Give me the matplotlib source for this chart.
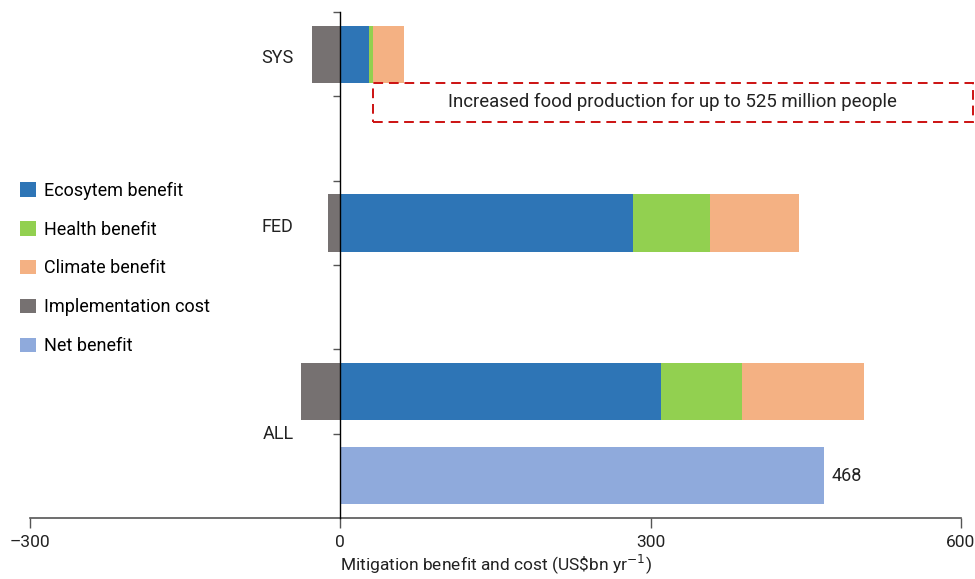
import matplotlib
matplotlib.use("Agg")
import matplotlib.pyplot as plt
from matplotlib.patches import Rectangle, Patch

plt.rcParams['font.family'] = ['Roboto', 'DejaVu Sans']

# Scenario data (US$bn per year)
scenarios = ["SYS", "FED", "ALL"]
ecosystem = [28, 283, 310]
health = [4, 74, 78]
climate = [30, 86, 118]
implementation = [-27, -12, -38]
net_benefit_all = 468

colors = {
    "Ecosytem benefit": "#2E75B6",
    "Health benefit": "#92D050",
    "Climate benefit": "#F4B183",
    "Implementation cost": "#767171",
    "Net benefit": "#8FAADC",
}

# vertical slots for each scenario's stacked bar
bar_pos = {"SYS": 5.5, "FED": 3.5, "ALL": 1.5}
label_pos = {"SYS": 5.46, "FED": 3.45, "ALL": 1.0}
bar_h = 0.68
fs = 13

fig = plt.figure(figsize=(9.75, 5.79), dpi=100)
ax = fig.add_axes([0.0308, 0.1054, 0.9548, 0.8736])

for i, s in enumerate(scenarios):
    y = bar_pos[s]
    ax.barh(y, implementation[i], height=bar_h, color=colors["Implementation cost"], zorder=2)
    left = 0
    for vals, key in ((ecosystem, "Ecosytem benefit"), (health, "Health benefit"),
                      (climate, "Climate benefit")):
        ax.barh(y, vals[i], left=left, height=bar_h, color=colors[key], zorder=2)
        left += vals[i]
    ax.text(-45, label_pos[s], s, ha="right", va="center", fontsize=fs, color="#222222")

# net benefit for ALL
ax.barh(0.5, net_benefit_all, height=bar_h, color=colors["Net benefit"], zorder=2)
ax.text(net_benefit_all + 7, 0.5, f"{net_benefit_all}", ha="left", va="center",
        fontsize=fs, color="#222222")

# annotation box
rect = Rectangle((32, 4.70), 580, 0.46, fill=False, edgecolor="#CC1111",
                 linestyle=(0, (5, 3)), linewidth=1.4, zorder=3, clip_on=False)
ax.add_patch(rect)
ax.text(321, 4.93, "Increased food production for up to 525 million people",
        ha="center", va="center", fontsize=13.4, color="#222222")

ax.set_xlim(-300, 600)
ax.set_ylim(0, 6)
ax.set_xticks([-300, 0, 300, 600])
ax.set_xticklabels(["\u2013300", "0", "300", "600"], fontsize=12.5, color="#222222")
ax.set_yticks([1, 2, 3, 4, 5, 6])
ax.set_yticklabels([])

for sp in ("top", "right"):
    ax.spines[sp].set_visible(False)
ax.spines["left"].set_position(("data", 0))
ax.spines["left"].set_color("black")
ax.spines["left"].set_linewidth(1.0)
ax.spines["left"].set_zorder(4)
ax.spines["bottom"].set_color("#555555")
ax.spines["bottom"].set_linewidth(1.2)
ax.tick_params(axis="x", direction="out", length=7, width=1.0, color="#555555", pad=5)
ax.tick_params(axis="y", direction="out", length=5, width=1.0, color="#555555")

ax.set_xlabel("Mitigation benefit and cost (US\\$bn yr$^{-1}$)", fontsize=12.5,
              color="#222222", labelpad=2)

handles = [Patch(facecolor=c, edgecolor="none") for c in colors.values()]
fig.legend(handles, list(colors.keys()), loc="upper left",
           bbox_to_anchor=(0.021, 0.686), frameon=False, fontsize=fs,
           handlelength=0.85, handleheight=0.85, handletextpad=0.45,
           labelspacing=1.15, borderaxespad=0, borderpad=0)

fig.savefig("out.png", dpi=100)
